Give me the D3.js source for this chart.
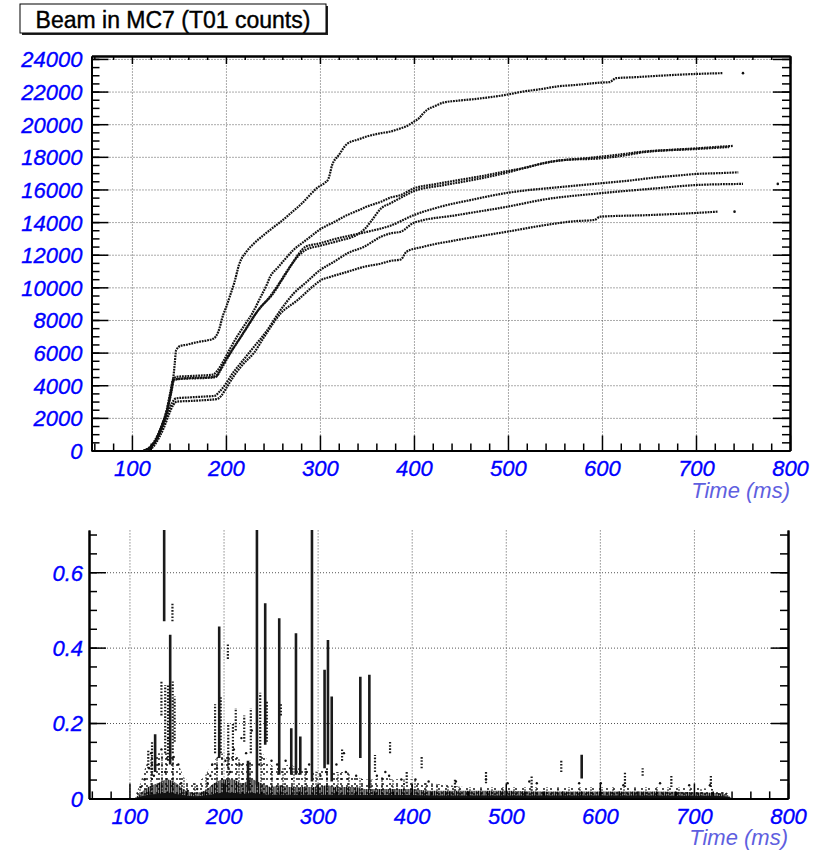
<!DOCTYPE html>
<html>
<head>
<meta charset="utf-8">
<script src="https://cdn.jsdelivr.net/npm/d3@7"></script>
<style>
body { margin: 0; background: #fff; }
svg { display: block; font-family: "Liberation Sans", Arial, Helvetica, sans-serif; }
.lbl text { fill: #0000ff; stroke: #0000ff; stroke-width: 0.35px; font-style: italic; font-size: 22px; }
.grid line { stroke: #555; stroke-width: 1; stroke-dasharray: 1 2; }
</style>
</head>
<body>
<svg id="chart" width="817" height="855"></svg>
<script>
// ---- data ----
var title = 'Beam in MC7 (T01  counts)',
	axisTitle = 'Time (ms)'

var xTicks = [100, 200, 300, 400, 500, 600, 700, 800],
	yTicksTop = [0, 2000, 4000, 6000, 8000, 10000, 12000, 14000, 16000, 18000, 20000, 22000, 24000],
	yTicksBottom = [0, 0.2, 0.4, 0.6],
	yLabelsBottom = ['0', '0.2', '0.4', '0.6']

// cumulative counts, one array per cycle: [time ms, counts]
var cycleA = [[112,0],[118,150],[126,700],[131,1400],[137,2400],[142,3700],[144,4450],[145.5,5300],[147,6150],[152,6420],[158,6480],[165,6580],[172,6670],[180,6750],[187,6860],[192,7300],[197,8300],[200,8750],[205,9600],[209,10300],[214,11400],[222,12200],[230,12700],[240,13200],[251,13700],[260,14100],[269,14550],[280,15100],[290,15700],[297,16100],[305,16400],[309,16650],[313,17500],[320,18100],[329,18800],[340,19050],[350,19250],[365,19450],[375,19550],[386,19750],[393,19900],[400,20160],[406,20400],[410,20670],[414,20880],[422,21100],[431,21320],[445,21430],[463,21530],[480,21650],[498,21800],[516,22000],[535,22150],[552,22310],[575,22420],[599,22550],[608,22580],[615,22820],[635,22880],[658,22960],[680,23030],[700,23080],[729,23130]]
var cycleB = [[113,0],[120,250],[127,900],[132,1600],[137,2500],[141,3600],[144,4400],[148,4520],[160,4560],[175,4600],[186,4650],[191,4900],[198,5550],[205,6300],[212,7000],[220,7700],[228,8400],[237,9420],[243,10100],[247,10650],[255,11200],[262,11670],[272,12300],[283,12800],[292,13200],[300,13550],[315,14000],[329,14430],[340,14700],[350,14950],[365,15250],[375,15500],[386,15660],[400,16070],[420,16300],[450,16600],[475,16850],[496,17090],[520,17350],[540,17650],[559,17800],[580,17900],[599,18010],[620,18150],[644,18320],[670,18420],[700,18520],[720,18600],[740,18670]]
var cycleC = [[114,0],[121,250],[128,900],[133,1600],[138,2500],[142,3600],[145,4350],[155,4420],[170,4460],[185,4500],[190,4600],[197,5300],[205,6000],[213,6700],[222,7500],[233,8500],[245,9300],[255,10100],[265,11000],[275,11800],[285,12300],[300,12550],[320,12850],[340,13250],[348,13600],[355,14100],[365,14840],[375,15150],[383,15400],[400,15900],[430,16250],[460,16550],[496,16990],[530,17500],[559,17800],[599,17910],[620,18050],[644,18280],[700,18480],[735,18600]]
var cycleD = [[113,0],[120,200],[127,800],[132,1500],[137,2400],[141,3500],[144,4300],[150,4380],[165,4420],[180,4450],[189,4500],[195,5000],[200,5500],[207,6200],[215,6900],[225,7800],[237,8800],[250,9600],[260,10500],[270,11400],[278,12100],[285,12500],[300,12700],[315,12950],[330,13150],[350,13400],[375,13780],[400,14430],[428,14940],[460,15350],[496,15760],[520,15950],[549,16110],[575,16250],[599,16380],[630,16550],[658,16740],[680,16850],[700,16950],[725,17000],[745,17050]]
var cycleE = [[115,0],[122,300],[128,900],[133,1500],[139,2400],[143,2950],[147,3200],[160,3250],[175,3300],[188,3350],[193,3600],[200,4100],[208,4800],[215,5300],[229,6300],[243,7300],[258,8600],[272,9620],[286,10340],[300,11050],[315,11570],[329,12080],[347,12490],[365,13100],[375,13310],[386,13410],[400,13960],[446,14430],[499,14940],[540,15400],[597,15760],[658,16070],[700,16270],[750,16340]]
var cycleF = [[116,0],[123,250],[129,800],[134,1400],[140,2300],[144,2800],[148,3000],[160,3030],[175,3080],[190,3150],[195,3350],[200,3800],[210,4700],[220,5400],[230,6000],[240,6900],[258,8390],[276,9210],[294,10130],[301,10440],[311,10640],[329,10950],[347,11260],[365,11460],[375,11620],[386,11710],[392,12180],[410,12490],[446,12900],[499,13410],[540,13820],[570,14050],[592,14130],[598,14330],[650,14430],[700,14560],[723,14640]]
var strayTop = [[750,23130],[787,16340],[741,14640]]

// lower plot: rate per bin
var solidSpikes = [[127.3,0.07,0.17],[136.9,0.47,0.75],[143.3,0.09,0.434],[195.4,0.107,0.456],[226,0.02,0.1],[235.5,0.036,0.75],[244.3,0.142,0.518],[259.2,0.063,0.478],[272,0.063,0.186],[277,0.063,0.438],[281.6,0.063,0.164],[294,0.045,0.75],[307.4,0.08,0.341],[311,0.09,0.42],[315,0.045,0.27],[345.4,0.107,0.323],[355,0.027,0.328],[580.7,0.053,0.116]]
var dottedSpikes = [[145.7,0.47,0.52],[204.6,0.37,0.41],[134,0.22,0.31],[138,0.12,0.3],[141,0.1,0.3],[146,0.12,0.31],[148,0.15,0.27],[120,0.08,0.13],[124,0.06,0.15],[191,0.12,0.25],[197,0.12,0.27],[205,0.08,0.2],[210,0.1,0.2],[213,0.18,0.24],[222,0.15,0.22],[229,0.12,0.24],[239,0.1,0.28],[246,0.15,0.26],[261,0.22,0.25],[326,0.1,0.13],[361,0.07,0.115],[377,0.12,0.15],[394.7,0.04,0.07],[410.6,0.08,0.11],[446,0.02,0.05],[479,0.04,0.07],[527.5,0.02,0.06],[559,0.07,0.1],[626.7,0.03,0.07],[645.5,0.06,0.08],[676,0.03,0.06],[718,0.03,0.06]]
var noiseT = [105,110,120,130,140,150,160,170,180,190,200,210,220,230,240,250,260,270,280,290,300,310,320,330,340,350,360,370,380,390,400,420,440,460,480,500,540,580,620,660,700,720,735,740]
var noiseDense = [0,0.01,0.03,0.04,0.05,0.04,0.02,0.015,0.02,0.04,0.05,0.05,0.04,0.05,0.04,0.03,0.035,0.03,0.03,0.03,0.03,0.035,0.03,0.03,0.03,0.025,0.025,0.025,0.025,0.025,0.025,0.02,0.02,0.02,0.02,0.02,0.018,0.018,0.018,0.018,0.016,0.015,0.01,0]
var noiseCore = [0,0.004,0.01,0.012,0.015,0.012,0.008,0.006,0.008,0.012,0.015,0.015,0.012,0.014,0.012,0.01,0.01,0.01,0.01,0.01,0.01,0.01,0.01,0.01,0.01,0.009,0.009,0.009,0.009,0.009,0.009,0.008,0.008,0.008,0.008,0.008,0.008,0.008,0.008,0.008,0.007,0.007,0.005,0]
var noiseSparse = [0,0.03,0.1,0.12,0.12,0.1,0.05,0.04,0.06,0.1,0.12,0.12,0.1,0.1,0.12,0.09,0.08,0.09,0.08,0.08,0.07,0.08,0.07,0.07,0.06,0.05,0.05,0.06,0.05,0.05,0.05,0.04,0.035,0.03,0.03,0.03,0.03,0.03,0.03,0.03,0.028,0.025,0.015,0]
var strayBottom = [[112,0.03],[116,0.05],[121,0.08],[123,0.12],[126,0.06],[131,0.09],[134,0.13],[138,0.07],[141,0.16],[147,0.11],[152,0.09],[155,0.04],[162,0.02],[172,0.025],[183,0.04],[186,0.06],[188,0.09],[193,0.08],[202,0.1],[207,0.07],[211,0.13],[217,0.09],[219,0.16],[224,0.12],[230,0.18],[238,0.09],[251,0.1],[257,0.09],[266,0.1],[271,0.08],[288,0.07],[291,0.09],[303,0.06],[309,0.07],[320,0.09],[328,0.12],[330,0.07],[341,0.06],[363,0.06],[372,0.07],[376,0.06],[389,0.05],[404,0.05],[418,0.045],[447,0.045],[479,0.05],[502,0.04],[525,0.045],[533,0.04],[578,0.04],[601,0.04],[625,0.035],[664,0.04],[695,0.035],[717,0.035]]

// ---- drawing ----
var svg = d3.select('#chart')

var defs = svg.append('defs')
function dotPattern(id, w, h, cx, cy, r) {
	defs.append('pattern').attr('id', id).attr('patternUnits', 'userSpaceOnUse')
		.attr('width', w).attr('height', h)
		.append('circle').attr('cx', cx).attr('cy', cy).attr('r', r).attr('fill', '#000')
}
dotPattern('pDense', 2.2, 2, 1.1, 1, 0.9)
dotPattern('pSparse1', 5, 7, 2, 2, 0.9)
dotPattern('pSparse2', 7, 5, 5, 4, 0.9)
dotPattern('pSparse3', 11, 3, 8, 1, 0.8)

// title box
svg.append('rect').attr('x', 22).attr('y', 6).attr('width', 306).attr('height', 29).attr('fill', '#222')
svg.append('rect').attr('x', 20).attr('y', 4).attr('width', 306).attr('height', 29)
	.attr('fill', '#fff').attr('stroke', '#000').attr('stroke-width', 1)
svg.append('text').attr('x', 173).attr('y', 27.5).attr('text-anchor', 'middle')
	.attr('font-size', 23).attr('fill', '#000').attr('stroke', '#000').attr('stroke-width', 0.4)
	.text(title)

function panel(geo, yDom, yTicks, yLabels, yMinorStep, topFrame) {
	var x = d3.scaleLinear().domain([57, 800]).range([geo.l, geo.r]),
		y = d3.scaleLinear().domain(yDom).range([geo.b, geo.t])
	var g = svg.append('g'),
		h = geo.b - geo.t,
		w = geo.r - geo.l

	var clipId = 'clip' + Math.round(geo.t)
	defs.append('clipPath').attr('id', clipId)
		.append('rect').attr('x', geo.l).attr('y', geo.t).attr('width', w).attr('height', h)

	// dotted grid at the major ticks
	g.append('g').attr('class', 'grid').attr('transform', 'translate(0,' + geo.b + ')')
		.call(d3.axisBottom(x).tickValues(xTicks.slice(0, -1)).tickSize(-h).tickFormat(''))
		.select('.domain').remove()
	g.append('g').attr('class', 'grid').attr('transform', 'translate(' + geo.l + ',0)')
		.call(d3.axisLeft(y).tickValues(yTicks.slice(1)).tickSize(-w).tickFormat(''))
		.select('.domain').remove()

	var xMinor = d3.range(60, 801, 20).filter(function(t) { return t % 100 != 0 }),
		yMinor = d3.range(0, yDom[1], yMinorStep)

	// bottom axis, ticks pointing in
	g.append('g').attr('class', 'lbl').attr('transform', 'translate(0,' + geo.b + ')')
		.call(d3.axisBottom(x).tickValues(xTicks).tickSize(-15).tickSizeOuter(0).tickPadding(10).tickFormat(d3.format('d')))
	g.append('g').attr('transform', 'translate(0,' + geo.b + ')')
		.call(d3.axisBottom(x).tickValues(xMinor).tickSize(-7).tickSizeOuter(0).tickFormat(''))
	// left axis
	var ay = g.append('g').attr('class', 'lbl').attr('transform', 'translate(' + geo.l + ',0)')
		.call(d3.axisLeft(y).tickValues(yTicks).tickSize(-17).tickSizeOuter(0).tickPadding(geo.pad)
			.tickFormat(function(d, i) { return yLabels[i] }))
	g.append('g').attr('transform', 'translate(' + geo.l + ',0)')
		.call(d3.axisLeft(y).tickValues(yMinor).tickSize(-8).tickSizeOuter(0).tickFormat(''))
	// right axis
	g.append('g').attr('transform', 'translate(' + geo.r + ',0)')
		.call(d3.axisRight(y).tickValues(yTicks).tickSize(-17).tickSizeOuter(0).tickFormat(''))
	g.append('g').attr('transform', 'translate(' + geo.r + ',0)')
		.call(d3.axisRight(y).tickValues(yMinor).tickSize(-8).tickSizeOuter(0).tickFormat(''))
	if (topFrame) {
		g.append('g').attr('transform', 'translate(0,' + geo.t + ')')
			.call(d3.axisTop(x).tickValues(xTicks).tickSize(-8).tickSizeOuter(0).tickFormat(''))
		g.append('g').attr('transform', 'translate(0,' + geo.t + ')')
			.call(d3.axisTop(x).tickValues(xMinor).tickSize(-4).tickSizeOuter(0).tickFormat(''))
	}
	g.selectAll('.tick line').attr('stroke', '#000').attr('stroke-width', 1.5)
	g.selectAll('.grid .tick line').attr('stroke', '#555').attr('stroke-width', 1)
	g.selectAll('.domain').attr('stroke', '#000').attr('stroke-width', 2)
	ay.selectAll('text').attr('dy', '0.36em')

	g.append('text').attr('x', geo.r).attr('y', geo.b + 47).attr('text-anchor', 'end')
		.attr('font-size', 22).attr('font-style', 'italic').attr('fill', '#5f5fe0')
		.text(axisTitle)

	var data = svg.append('g').attr('clip-path', 'url(#' + clipId + ')')
	return {x: x, y: y, g: data}
}

// upper: cumulative counts
var P1 = panel({l: 91.5, r: 790, t: 56, b: 450.5, pad: 9}, [0, 24180], yTicksTop,
	yTicksTop.map(String), 500, true)
var line = d3.line().x(function(d) { return P1.x(d[0]) }).y(function(d) { return P1.y(d[1]) })
	.curve(d3.curveMonotoneX)
P1.g.selectAll('.cycle')
	.data([cycleA, cycleB, cycleC, cycleD, cycleE, cycleF])
	.enter().append('path')
	.attr('class', 'cycle')
	.attr('d', line)
	.attr('fill', 'none').attr('stroke', '#111').attr('stroke-width', 2.2)
	.attr('stroke-dasharray', '1.8 0.9')
P1.g.selectAll('.stray').data(strayTop).enter().append('circle')
	.attr('cx', function(d) { return P1.x(d[0]) }).attr('cy', function(d) { return P1.y(d[1]) })
	.attr('r', 1.3).attr('fill', '#111')

// lower: rate
var P2 = panel({l: 89, r: 788, t: 530, b: 798.4, pad: 6}, [0, 0.712], yTicksBottom,
	yLabelsBottom, 0.05, false)

var noise = noiseT.map(function(t, i) {
	return {t: t, core: noiseCore[i], dense: noiseDense[i], sparse: noiseSparse[i]}
})
var area = function(key) {
	return d3.area().x(function(d) { return P2.x(d.t) }).y0(P2.y(0))
		.y1(function(d) { return P2.y(d[key]) }).curve(d3.curveMonotoneX)
}
;['pSparse1', 'pSparse2', 'pSparse3'].forEach(function(p) {
	P2.g.append('path').datum(noise).attr('d', area('sparse')).attr('fill', 'url(#' + p + ')')
})
P2.g.append('path').datum(noise).attr('d', area('dense')).attr('fill', 'url(#pDense)')
P2.g.append('path').datum(noise).attr('d', area('core')).attr('fill', '#111')

P2.g.selectAll('.spike').data(solidSpikes).enter().append('line')
	.attr('x1', function(d) { return P2.x(d[0]) }).attr('x2', function(d) { return P2.x(d[0]) })
	.attr('y1', function(d) { return P2.y(d[1]) }).attr('y2', function(d) { return P2.y(d[2]) })
	.attr('stroke', '#1a1a1a').attr('stroke-width', 2.6)
P2.g.selectAll('.dspike').data(dottedSpikes).enter().append('line')
	.attr('x1', function(d) { return P2.x(d[0]) }).attr('x2', function(d) { return P2.x(d[0]) })
	.attr('y1', function(d) { return P2.y(d[1]) }).attr('y2', function(d) { return P2.y(d[2]) })
	.attr('stroke', '#1a1a1a').attr('stroke-width', 2.2).attr('stroke-dasharray', '1.6 1.6')
P2.g.selectAll('.pt').data(strayBottom).enter().append('circle')
	.attr('cx', function(d) { return P2.x(d[0]) }).attr('cy', function(d) { return P2.y(d[1]) })
	.attr('r', 1.2).attr('fill', '#111')
</script>
</body>
</html>
